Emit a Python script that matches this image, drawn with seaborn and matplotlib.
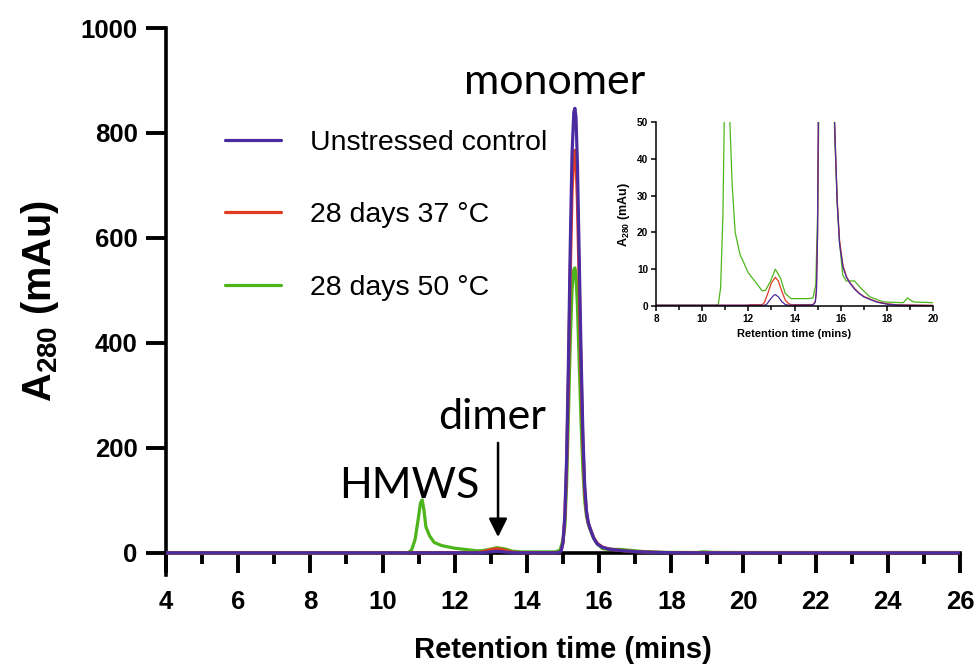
import numpy as np
import pandas as pd
import matplotlib
matplotlib.use('Agg')
import matplotlib.pyplot as plt
import seaborn as sns

# chromatogram traces (retention time in mins, A280 in mAu)
time_control = [4.0, 12.7, 12.8, 12.95, 13.1, 13.17, 13.3, 13.45, 13.6, 13.75, 14.8, 14.9, 14.95,
                15.0, 15.05, 15.1, 15.15, 15.2, 15.25, 15.3, 15.33, 15.36, 15.4, 15.45, 15.5, 15.55,
                15.6, 15.65, 15.7, 15.75, 15.85, 15.95, 16.1, 16.25, 16.4, 16.6, 16.8, 17.0, 17.3,
                17.6, 18.0, 18.5, 20.0, 26.0]
a280_control = [0.2, 0.2, 0.5, 1.8, 2.9, 3.1, 2.5, 1.2, 0.4, 0.2, 0.3, 1.0, 4.0,
                20, 70, 180, 360, 580, 760, 840, 847, 830, 740, 560, 380, 230,
                130, 80, 58, 47, 28, 17, 10.5, 7.8, 6.2, 4.6, 3.4, 2.5, 1.7,
                1.0, 0.5, 0.25, 0.1, 0.1]

time_37 = [4.0, 12.0, 12.05, 12.6, 12.7, 12.85, 13.0, 13.17, 13.3, 13.45, 13.6, 13.75, 13.9,
           14.8, 14.9, 14.95, 15.0, 15.05, 15.1, 15.15, 15.2, 15.25, 15.3, 15.33, 15.36, 15.4,
           15.45, 15.5, 15.55, 15.6, 15.65, 15.7, 15.75, 15.85, 15.95, 16.1, 16.25, 16.4, 16.6,
           16.8, 17.0, 17.3, 17.6, 18.0, 18.5, 20.0, 26.0]
a280_37 = [0.2, 0.2, 0.35, 0.35, 1.0, 3.5, 6.3, 7.8, 6.8, 4.0, 1.6, 0.6, 0.35,
           0.4, 1.2, 4.5, 20, 65, 165, 330, 530, 690, 755, 767, 750, 670,
           510, 345, 210, 120, 78, 57, 47, 29, 18, 11, 8.0, 6.4, 4.8,
           3.5, 2.6, 1.8, 1.1, 0.6, 0.3, 0.2, 0.2]

time_50 = [4.0, 10.6, 10.7, 10.8, 10.9, 11.0, 11.05, 11.1, 11.15, 11.2, 11.3, 11.43, 11.64,
           12.0, 12.3, 12.6, 12.75, 12.95, 13.17, 13.4, 13.6, 13.85, 14.6, 14.8, 14.92, 15.0,
           15.05, 15.1, 15.15, 15.2, 15.25, 15.3, 15.33, 15.36, 15.4, 15.45, 15.5, 15.55, 15.6,
           15.65, 15.7, 15.75, 15.85, 15.94, 16.09, 16.24, 16.6, 16.82, 17.26, 17.84, 18.71,
           18.89, 19.15, 20.0, 26.0]
a280_50 = [0.2, 0.2, 0.5, 5, 25, 70, 95, 101, 80, 50, 33, 20, 14,
           9, 6.6, 4.1, 4.3, 6.6, 10, 7.5, 3.4, 2.0, 2.0, 2.2, 5.7, 25,
           50, 130, 260, 400, 500, 540, 543, 530, 470, 360, 250, 160, 100,
           70, 55, 45, 28, 18, 8.4, 6.8, 6.8, 5.2, 2.5, 1.1, 0.9,
           2.2, 1.1, 0.9, 0.9]

labels = ['Unstressed control', '28 days 37 \u00b0C', '28 days 50 \u00b0C']
colors = ['#4a2ca0', '#e23b1f', '#4db51b']

df = pd.concat([
    pd.DataFrame({'time': time_control, 'a280': a280_control, 'sample': labels[0]}),
    pd.DataFrame({'time': time_37, 'a280': a280_37, 'sample': labels[1]}),
    pd.DataFrame({'time': time_50, 'a280': a280_50, 'sample': labels[2]}),
])

sns.set_style('ticks')
plt.rcParams['font.family'] = ['Liberation Sans', 'DejaVu Sans']
plt.rcParams['mathtext.fontset'] = 'custom'
plt.rcParams['mathtext.rm'] = 'Liberation Sans:bold'
plt.rcParams['mathtext.it'] = 'Liberation Sans:bold'
plt.rcParams['mathtext.bf'] = 'Liberation Sans:bold'
for k in ['text.color', 'axes.labelcolor', 'xtick.color', 'ytick.color', 'axes.edgecolor']:
    plt.rcParams[k] = 'black'

fig = plt.figure(figsize=(9.76, 6.70), dpi=100)
ax = fig.add_axes([166/976, 1-575/670, 794/976, 547/670])

# draw green first, purple on top
for lab, col in zip(labels[::-1], colors[::-1]):
    sub = df[df['sample'] == lab]
    sns.lineplot(data=sub, x='time', y='a280', color=col, lw=2.3, ax=ax,
                 estimator=None, sort=False, label=lab, zorder=4)

ax.set_xlim(4, 26)
ax.set_ylim(-42, 1000)
ax.spines['top'].set_visible(False)
ax.spines['right'].set_visible(False)
ax.spines['bottom'].set_position(('data', 0))
for s in ['left', 'bottom']:
    ax.spines[s].set_linewidth(2.6)
ax.set_xticks(np.arange(4, 27, 2))
ax.set_xticks(np.arange(5, 26, 2), minor=True)
ax.set_yticks(np.arange(0, 1001, 200))
ax.tick_params(axis='both', which='major', length=14.5, width=2.8, labelsize=18.5, pad=6)
ax.tick_params(axis='x', which='major', pad=12)
ax.tick_params(axis='x', which='minor', length=8, width=2.8)
for t in ax.get_xticklabels() + ax.get_yticklabels():
    t.set_fontweight('bold')
ax.set_xlabel('Retention time (mins)', fontsize=21, fontweight='bold')
ax.set_ylabel('A$_{280}$ (mAu)', fontsize=28.5, fontweight='bold', labelpad=14)
ax.xaxis.set_label_coords(0.5, -0.112)

# legend
handles = ax.get_legend_handles_labels()
hmap = dict(zip(handles[1], handles[0]))
leg = ax.legend([hmap[l] for l in labels], labels, loc='upper left',
                bbox_to_anchor=(225/976, 1-130/670), bbox_transform=fig.transFigure,
                frameon=False, fontsize=20.5, handlelength=1.95, handletextpad=1.05,
                labelspacing=1.63, borderpad=0, borderaxespad=0)

# peak annotations
ax.text(14.78, 898, 'monomer', fontsize=31, family='Lato', ha='center', va='center')
ax.text(13.03, 259, 'dimer', fontsize=31, family='Lato', ha='center', va='center')
ax.text(10.73, 128, 'HMWS', fontsize=31, family='Lato', ha='center', va='center')
ax.annotate('', xy=(13.2, 25), xytext=(13.2, 215),
            arrowprops=dict(arrowstyle='-|>', lw=1.8, color='k', mutation_scale=28))

# inset zoom on the baseline
ins = fig.add_axes([656/976, 1-306/670, 277/976, 184/670])
for lab, col in zip(labels[::-1], colors[::-1]):
    sub = df[df['sample'] == lab]
    sns.lineplot(data=sub, x='time', y='a280', color=col, lw=0.9, ax=ins,
                 estimator=None, sort=False, legend=False)
ins.set_xlim(8, 20)
ins.set_ylim(0, 50)
ins.spines['top'].set_visible(False)
ins.spines['right'].set_visible(False)
for s in ['left', 'bottom']:
    ins.spines[s].set_linewidth(1.1)
ins.set_xticks(np.arange(8, 21, 2))
ins.set_xticks(np.arange(9, 20, 2), minor=True)
ins.set_yticks(np.arange(0, 51, 10))
ins.tick_params(axis='both', which='major', length=3.5, width=1.1, labelsize=7.2, pad=2)
ins.tick_params(axis='x', which='minor', length=3, width=1.1)
for t in ins.get_xticklabels() + ins.get_yticklabels():
    t.set_fontweight('bold')
ins.set_xlabel('Retention time (mins)', fontsize=8, fontweight='bold', labelpad=4)
ins.set_ylabel('A$_{280}$ (mAu)', fontsize=9, fontweight='bold', labelpad=4)

fig.savefig('out.png', dpi=100)
